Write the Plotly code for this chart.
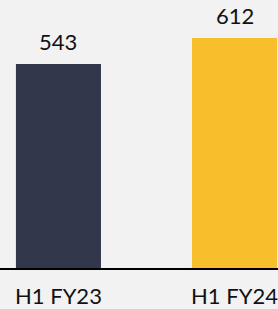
import plotly.graph_objects as go

categories = ["H1 FY23", "H1 FY24"]
values = [543, 612]
colors = ["#32374b", "#f8bf2c"]
value_labels = ["543", "612"]

BG = "#f2f2f2"
FONT = "Lato, Carlito, 'Open Sans', sans-serif"

fig = go.Figure()
fig.add_trace(go.Bar(
    x=categories, y=values, marker=dict(color=colors, line=dict(width=0)),
    width=0.483, hoverinfo="skip", showlegend=False,
))
for c, v, t in zip(categories, values, value_labels):
    fig.add_annotation(x=c, y=v, text=t, showarrow=False, yanchor="bottom",
                       yshift=7, font=dict(size=22, color="#111111", family=FONT))

fig.update_layout(
    width=278, height=309,
    margin=dict(l=0, r=0, t=0, b=41),
    paper_bgcolor=BG, plot_bgcolor=BG,
    xaxis=dict(range=[-0.332, 1.247], showline=True, linecolor="#000000", linewidth=2,
               showgrid=False, ticks="outside", ticklen=8, tickcolor=BG,
               tickfont=dict(size=22, color="#111111", family=FONT)),
    yaxis=dict(range=[0, 713.3], visible=False, showgrid=False, zeroline=False),
)
fig.write_html("out.html", config={"displayModeBar": False},
               post_script="document.body.style.margin='0';document.body.style.overflow='hidden';document.body.style.background='#f2f2f2';")
